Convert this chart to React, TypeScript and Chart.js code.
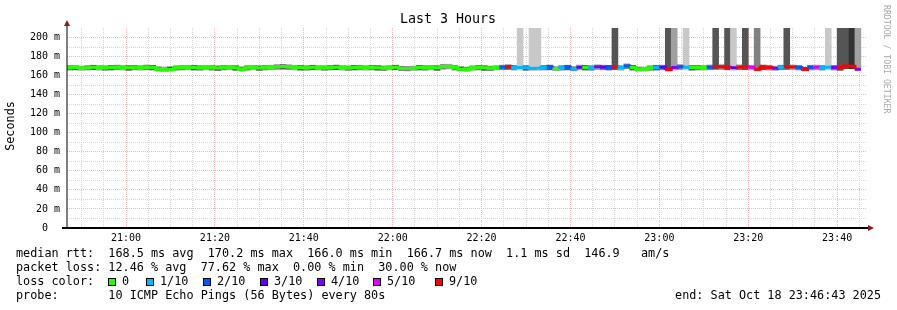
import { useEffect, useRef } from 'react';
import { Chart, registerables } from 'chart.js';

Chart.register(...registerables);

// ---- time frame (seconds of day) ----
const STEP_START = 74800; // first 80 s step boundary (20:46:40)
const STEP_SECONDS = 80;
const VIEW_START = 74803; // 20:46:43
const VIEW_END = 85603; // 23:46:43

// ---- data (one value per 80 s step) ----
const medianRtt = [
  168.6, 168.4, 168.0, 168.3, 168.7, 168.5, 168.2, 168.4, 168.8, 168.5,
  168.3, 168.6, 168.4, 168.9, 168.5, 166.6, 166.0, 166.5, 168.2, 168.4,
  168.7, 168.5, 168.3, 168.6, 168.4, 168.0, 168.5, 168.7, 168.2, 166.5,
  168.3, 168.6, 168.1, 168.5, 168.8, 169.4, 169.5, 169.2, 168.6, 168.4,
  168.3, 168.7, 168.5, 168.2, 168.6, 168.8, 168.4, 168.1, 168.5, 168.7,
  168.4, 168.6, 168.3, 168.0, 168.5, 168.7, 167.6, 167.4, 167.8, 168.5,
  168.3, 168.6, 168.2, 169.6, 169.8, 168.5, 166.8, 166.4, 168.3, 168.6,
  168.2, 167.8, 168.4, 168.9, 169.3, 168.6, 168.5, 168.3, 167.6, 167.8,
  168.6, 168.8, 167.2, 168.4, 168.7, 167.0, 168.9, 168.5, 168.3, 169.2,
  168.8, 168.6, 169.1, 168.4, 170.2, 168.5, 166.8, 166.6, 168.2, 168.5,
  168.8, 166.4, 168.6, 169.3, 168.7, 168.4, 168.6, 168.5, 168.9, 169.3,
  169.2, 168.8, 168.3, 168.9, 169.0, 168.7, 166.7, 168.9, 168.6, 167.7,
  168.8, 169.2, 169.0, 168.6, 166.5, 168.7, 168.9, 168.5, 168.8, 168.6,
  168.2, 170.0, 169.9, 166.7,
];

// lost pings out of 10 per step
const lossCount = [
  0, 0, 0, 0, 0, 0, 0, 0, 0, 0,
  0, 0, 0, 0, 0, 0, 0, 0, 0, 0,
  0, 0, 0, 0, 0, 0, 0, 0, 0, 0,
  0, 0, 0, 0, 0, 0, 0, 0, 0, 0,
  0, 0, 0, 0, 0, 0, 0, 0, 0, 0,
  0, 0, 0, 0, 0, 0, 0, 0, 0, 0,
  0, 0, 0, 0, 0, 0, 0, 0, 0, 0,
  0, 0, 0, 2, 9, 1, 1, 1, 1, 1,
  1, 2, 0, 1, 2, 1, 3, 0, 1, 4,
  3, 2, 9, 1, 2, 0, 0, 0, 0, 1,
  3, 9, 4, 2, 1, 0, 0, 0, 2, 9,
  9, 9, 3, 9, 9, 5, 9, 9, 9, 4,
  1, 9, 9, 2, 9, 2, 5, 1, 1, 4,
  9, 9, 9, 4,
];

const smokeLow = [
  165.8, 166.0, 165.6, 165.9, 166.2, 165.7, 165.5, 165.9, 166.1, 165.8,
  165.6, 166.0, 165.7, 166.2, 165.9, 164.8, 164.6, 164.9, 165.7, 165.9,
  166.1, 165.8, 165.6, 166.0, 165.7, 165.4, 165.9, 166.1, 165.6, 164.9,
  165.7, 166.0, 165.5, 165.9, 166.2, 166.6, 166.8, 166.4, 165.9, 165.7,
  165.6, 166.1, 165.8, 165.5, 165.9, 166.2, 165.7, 165.4, 165.9, 166.0,
  165.7, 166.0, 165.6, 165.3, 165.9, 166.1, 165.2, 165.0, 165.4, 165.9,
  165.6, 166.0, 165.5, 166.8, 167.0, 165.8, 165.0, 164.7, 165.6, 165.9,
  165.5, 165.2, 165.8, 166.2, 166.5, 165.9, 165.8, 165.6, 165.1, 165.3,
  165.9, 166.1, 165.2, 165.7, 166.0, 165.0, 166.2, 165.8, 165.6, 166.4,
  166.1, 165.9, 166.3, 165.7, 167.4, 165.8, 164.9, 164.8, 165.6, 165.8,
  166.1, 165.0, 165.9, 166.5, 166.0, 165.7, 165.9, 165.8, 166.2, 166.6,
  166.5, 166.1, 165.6, 166.2, 166.3, 166.0, 165.1, 166.2, 165.9, 165.4,
  166.1, 166.5, 166.3, 165.9, 165.2, 166.0, 166.2, 165.8, 166.1, 165.9,
  165.5, 167.3, 167.2, 165.6,
];

// highest ping per step (values above the top of the graph are clipped)
const smokeHigh = [
  170.6, 170.3, 170.1, 170.5, 170.9, 170.7, 170.4, 170.6, 171.0, 170.7,
  170.5, 170.8, 170.6, 171.1, 170.7, 169.2, 168.9, 169.1, 170.4, 170.6,
  170.9, 170.7, 170.5, 170.8, 170.6, 170.2, 170.7, 170.9, 170.4, 169.1,
  170.5, 170.8, 170.3, 170.7, 171.0, 171.5, 171.6, 171.3, 170.8, 170.6,
  170.5, 170.9, 170.7, 170.4, 170.8, 171.0, 170.6, 170.3, 170.7, 170.9,
  170.6, 170.8, 170.5, 170.2, 170.7, 170.9, 169.8, 169.6, 170.0, 170.7,
  170.5, 170.8, 170.4, 171.7, 171.9, 170.7, 169.2, 168.8, 170.5, 170.8,
  170.4, 170.0, 170.6, 171.0, 171.3, 170.8, 260, 170.5, 260, 260,
  170.8, 171.0, 169.6, 170.6, 170.9, 169.4, 171.1, 170.7, 170.5, 171.4,
  171.0, 170.8, 260, 170.6, 172.3, 170.7, 169.0, 168.9, 170.4, 170.7,
  171.0, 260, 260, 171.5, 260, 170.6, 170.8, 170.7, 171.1, 260,
  171.4, 260, 260, 171.2, 260, 170.9, 260, 171.1, 170.8, 170.0,
  171.0, 260, 171.2, 170.8, 168.8, 170.9, 171.1, 170.7, 260, 170.8,
  260, 260, 260, 260,
];

const smokeShade = [
  2, 3, 1, 2, 3, 1, 2, 3, 2, 1,
  3, 2, 1, 2, 3, 2, 1, 3, 2, 2,
  1, 3, 2, 1, 2, 3, 2, 1, 3, 2,
  2, 1, 3, 2, 1, 2, 3, 2, 1, 3,
  2, 3, 1, 2, 2, 3, 1, 2, 3, 2,
  1, 2, 3, 2, 1, 3, 2, 2, 1, 3,
  2, 1, 3, 2, 1, 2, 3, 2, 1, 2,
  3, 2, 1, 2, 3, 2, 0, 3, 0, 0,
  2, 3, 1, 2, 3, 2, 1, 3, 2, 1,
  2, 3, 3, 1, 2, 3, 2, 1, 2, 3,
  2, 3, 1, 2, 0, 3, 2, 1, 2, 3,
  2, 3, 0, 2, 3, 1, 2, 3, 2, 1,
  2, 3, 1, 2, 3, 2, 1, 2, 0, 2,
  3, 3, 4, 1,
];
const shadeColors = ['#c8c8c8', '#a0a0a0', '#808080', '#555555', '#333333'];

const lossLevels = [0, 1, 2, 3, 4, 5, 9];
const lossLabels = ['0', '1/10', '2/10', '3/10', '4/10', '5/10', '9/10'];
const lossColors = ['#26ff00', '#00b8ff', '#0059ff', '#5e00ff', '#7e00ff', '#dd00ff', '#ff0000'];

const xTickValues = [75600, 76800, 78000, 79200, 80400, 81600, 82800, 84000, 85200];
const xTickLabels = ['21:00', '21:20', '21:40', '22:00', '22:20', '22:40', '23:00', '23:20', '23:40'];
const yTickValues = [0, 20, 40, 60, 80, 100, 120, 140, 160, 180, 200];
const yTickLabels = ['0  ', '20 m', '40 m', '60 m', '80 m', '100 m', '120 m', '140 m', '160 m', '180 m', '200 m'];

const titleText = 'Last 3 Hours';
const yAxisTitle = 'Seconds';
const watermark = 'RRDTOOL / TOBI OETIKER';
const legendRtt = 'median rtt:  168.5 ms avg  170.2 ms max  166.0 ms min  166.7 ms now  1.1 ms sd  146.9   am/s';
const legendLoss = 'packet loss: 12.46 % avg  77.62 % max  0.00 % min  30.00 % now';
const legendLossTitle = 'loss color:';
const legendProbe = 'probe:       10 ICMP Echo Pings (56 Bytes) every 80s';
const legendEnd = 'end: Sat Oct 18 23:46:43 2025';

const MONO = '"DejaVu Sans Mono", monospace';
const GRID_MINOR = '#d6d6d6';
const GRID_MAJOR = '#f3b6b6';
const ARROW = '#8b1a1a';

function lossColor(c: number): string {
  let idx = 0;
  for (let k = 0; k < lossLevels.length; k++) if (lossLevels[k] <= c) idx = k;
  return lossColors[idx];
}

const decorPlugin = {
  id: 'rrdDecor',
  afterDatasetsDraw(chart: any) {
    const ctx = chart.ctx as CanvasRenderingContext2D;
    const area = chart.chartArea;
    ctx.save();
    // y axis
    ctx.strokeStyle = '#000';
    ctx.lineWidth = 1;
    ctx.beginPath();
    ctx.moveTo(area.left, area.bottom);
    ctx.lineTo(area.left, area.top - 3);
    ctx.stroke();
    // x axis
    ctx.lineWidth = 2;
    ctx.beginPath();
    ctx.moveTo(area.left - 5, area.bottom);
    ctx.lineTo(area.right + 2, area.bottom);
    ctx.stroke();
    // arrows
    ctx.fillStyle = ARROW;
    ctx.beginPath();
    ctx.moveTo(area.left, area.top - 8);
    ctx.lineTo(area.left - 3, area.top - 2);
    ctx.lineTo(area.left + 3, area.top - 2);
    ctx.closePath();
    ctx.fill();
    ctx.beginPath();
    ctx.moveTo(area.right + 7, area.bottom);
    ctx.lineTo(area.right + 1, area.bottom - 3);
    ctx.lineTo(area.right + 1, area.bottom + 3);
    ctx.closePath();
    ctx.fill();
    ctx.restore();
  },
  afterDraw(chart: any) {
    const ctx = chart.ctx as CanvasRenderingContext2D;
    const xs = chart.scales.x;
    const ys = chart.scales.y;
    ctx.save();
    ctx.fillStyle = '#000';
    // title
    ctx.font = `13.3px ${MONO}`;
    ctx.textAlign = 'center';
    ctx.textBaseline = 'middle';
    ctx.fillText(titleText, 448, 20);
    // y tick labels
    ctx.font = `10px ${MONO}`;
    ctx.textAlign = 'right';
    yTickValues.forEach((v, i) => {
      ctx.fillText(yTickLabels[i], 60, ys.getPixelForValue(v));
    });
    // x tick labels
    ctx.textAlign = 'center';
    xTickValues.forEach((v, i) => {
      ctx.fillText(xTickLabels[i], xs.getPixelForValue(v), 238);
    });
    // vertical axis title
    ctx.font = `11.8px ${MONO}`;
    ctx.save();
    ctx.translate(11, 126);
    ctx.rotate(-Math.PI / 2);
    ctx.textAlign = 'center';
    ctx.fillText(yAxisTitle, 0, 0);
    ctx.restore();
    // watermark
    ctx.save();
    ctx.fillStyle = '#aaaaaa';
    ctx.font = `8.2px ${MONO}`;
    ctx.translate(886, 5);
    ctx.rotate(Math.PI / 2);
    ctx.textAlign = 'left';
    ctx.fillText(watermark, 0, 0);
    ctx.restore();
    // legend
    ctx.font = `11.8px ${MONO}`;
    ctx.textAlign = 'left';
    ctx.fillText(legendRtt, 16, 254);
    ctx.fillText(legendLoss, 16, 268);
    ctx.fillText(legendLossTitle, 16, 282);
    ctx.fillText(legendProbe, 16, 296);
    ctx.textAlign = 'right';
    ctx.fillText(legendEnd, 881, 296);
    ctx.textAlign = 'left';
    const boxX = [108, 146, 203, 260, 317, 373, 435];
    lossLabels.forEach((lab, i) => {
      const bx = boxX[i];
      ctx.fillStyle = lossColors[i];
      ctx.fillRect(bx, 278, 7, 7);
      ctx.strokeStyle = '#000';
      ctx.lineWidth = 1;
      ctx.strokeRect(bx + 0.5, 278.5, 7, 7);
      ctx.fillStyle = '#000';
      ctx.fillText(lab, bx + 14, 282);
    });
    ctx.restore();
  },
};

export default function App() {
  const ref = useRef<HTMLCanvasElement>(null);
  useEffect(() => {
    const canvas = ref.current!;
    const n = medianRtt.length;
    const lineData = medianRtt.map((v, i) => ({ x: STEP_START + i * STEP_SECONDS, y: v }));
    lineData.push({ x: STEP_START + n * STEP_SECONDS, y: medianRtt[n - 1] });
    const smokeData = smokeLow.map((lo, i) => ({
      x: STEP_START + i * STEP_SECONDS + STEP_SECONDS / 2,
      y: [lo, smokeHigh[i]],
    }));
    const xGrid: number[] = [];
    for (let t = Math.ceil(VIEW_START / 300) * 300; t < VIEW_END; t += 300) xGrid.push(t);
    const yGrid: number[] = [];
    for (let v = 10; v <= 200; v += 10) yGrid.push(v);

    const chart = new Chart(canvas, {
      type: 'bar',
      data: {
        datasets: [
          {
            type: 'line',
            data: lineData as any,
            order: 0,
            borderWidth: 3,
            pointRadius: 0,
            stepped: 'before',
            fill: false,
            borderColor: lossColors[0],
            segment: {
              borderColor: (c: any) => lossColor(lossCount[Math.min(c.p0DataIndex, n - 1)]),
            },
          } as any,
          {
            type: 'bar',
            data: smokeData as any,
            order: 1,
            backgroundColor: smokeShade.map((s) => shadeColors[s]),
            borderWidth: 0,
            barPercentage: 1,
            categoryPercentage: 1,
            grouped: false,
          } as any,
        ],
      },
      options: {
        responsive: false,
        devicePixelRatio: 1,
        animation: false,
        events: [],
        layout: { padding: { left: 67, right: 30, top: 28, bottom: 82 } },
        plugins: { legend: { display: false }, tooltip: { enabled: false }, title: { display: false } },
        scales: {
          x: {
            type: 'linear',
            min: VIEW_START,
            max: VIEW_END,
            offset: false,
            ticks: { display: false },
            grid: {
              offset: false,
              drawTicks: false,
              lineWidth: 1,
              color: (c: any) => (c.tick && c.tick.value % 1200 === 0 ? GRID_MAJOR : GRID_MINOR),
            },
            border: { display: false, dash: [1, 1] },
            afterBuildTicks: (s: any) => {
              s.ticks = xGrid.map((v) => ({ value: v }));
            },
          },
          y: {
            type: 'linear',
            min: 0,
            max: 210,
            ticks: { display: false },
            grid: {
              drawTicks: false,
              lineWidth: 1,
              color: (c: any) => (c.tick && c.tick.value % 20 === 0 ? GRID_MAJOR : GRID_MINOR),
            },
            border: { display: false, dash: [1, 1] },
            afterBuildTicks: (s: any) => {
              s.ticks = yGrid.map((v) => ({ value: v }));
            },
          },
        },
      } as any,
      plugins: [decorPlugin],
    });
    return () => chart.destroy();
  }, []);
  return (
    <div style={{ position: 'absolute', left: 0, top: 0, width: 897, height: 310, background: '#fff' }}>
      <canvas ref={ref} width={897} height={310} style={{ display: 'block', width: 897, height: 310 }} />
    </div>
  );
}
